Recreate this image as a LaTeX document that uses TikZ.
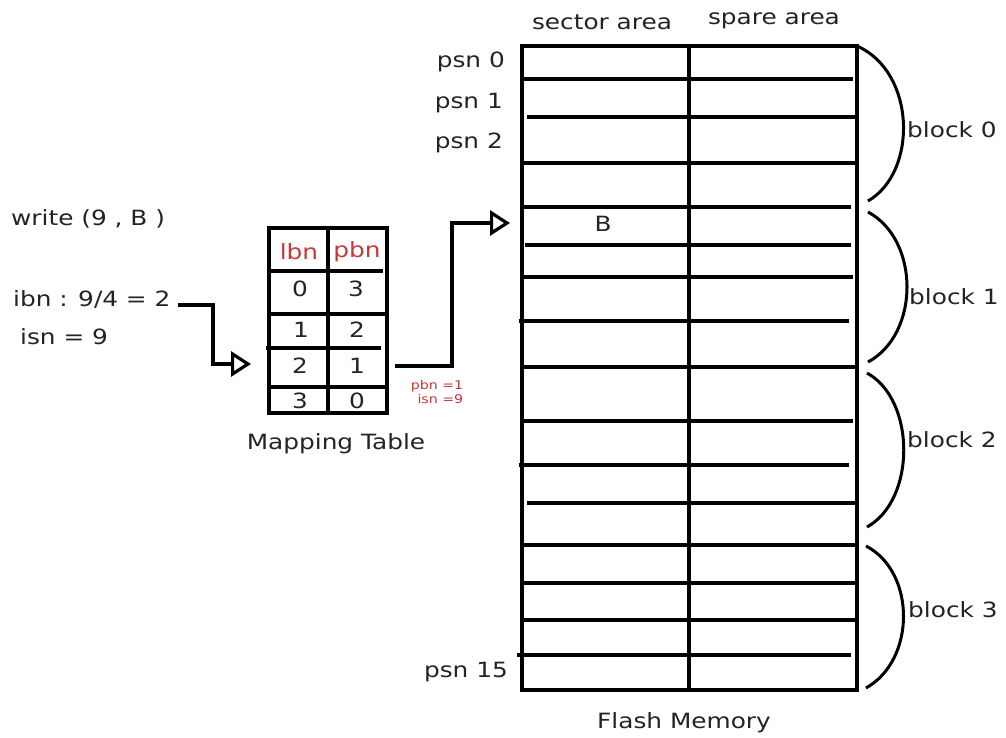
\documentclass[tikz,border=0pt]{standalone}
\usepackage{fontspec}
\setmainfont{DejaVu Sans}[FakeStretch=1.18]
\usetikzlibrary{arrows.meta}
\definecolor{redtxt}{RGB}{200,55,55}
\definecolor{ink}{RGB}{35,35,35}
\begin{document}
\begin{tikzpicture}[x=1pt,y=-1pt,
  lbl/.style={font=\fontsize{21}{23}\selectfont, text=ink, inner sep=0pt},
  small/.style={font=\fontsize{12}{14}\selectfont, text=redtxt, inner sep=0pt, align=right},
  hd/.style={font=\fontsize{21}{23}\selectfont, text=redtxt, inner sep=0pt},
  grid/.style={line width=3.4pt, draw=black},
  brace/.style={line width=3pt, draw=black},
  conn/.style={line width=3.4pt, -{Triangle[open,length=20pt,width=25pt,line width=3.2pt]}}]
\useasboundingbox[fill=white] (0,0) rectangle (1006,738);

% ---------- left texts ----------
\node[lbl, anchor=west] (write) at (11,219) {write (9 , B )};
\node[lbl, anchor=west] (ibn) at (13,299) {ibn : 9/4 = 2};
\node[lbl, anchor=west] (isn) at (20,337) {isn = 9};

% ---------- mapping table ----------
\node[grid, minimum width=118pt, minimum height=185pt, inner sep=0pt] (tbl) at (328,320.5) {};
\draw[grid] (328,228) -- (328,413);
\draw[grid] (269,271) -- (383,271);
\draw[grid] (269,314) -- (387,314);
\draw[grid] (266,348) -- (381,348);
\draw[grid] (269,387) -- (387,387);
\node[hd] (lbn) at (299,252) {lbn};
\node[hd] (pbn) at (357,252) {pbn};
\node[lbl] (r0a) at (300,289) {0};
\node[lbl] (r0b) at (356,289) {3};
\node[lbl] (r1a) at (301,330) {1};
\node[lbl] (r1b) at (357,330) {2};
\node[lbl] (r2a) at (300,366) {2};
\node[lbl] (r2b) at (357,366) {1};
\node[lbl] (r3a) at (300,401) {3};
\node[lbl] (r3b) at (357,401) {0};
\node[lbl] (mt) at (336,444) {Mapping Table};

% ---------- flash memory ----------
\node[grid, minimum width=335pt, minimum height=644pt, inner sep=0pt] (flash) at (689.5,368) {};
\draw[grid] (689,46) -- (689,690);
\foreach \y/\a/\b in {79/523/853, 117/527/857, 163/523/857, 207/523/851, 245/525/851,
                      277/523/853, 321/519/849, 367/523/857, 421/523/853, 465/519/849,
                      503/527/857, 545/523/857, 583/523/857, 620/523/857, 655/517/851}
  \draw[grid] (\a,\y) -- (\b,\y);

\node[lbl] (sector) at (602,22) {sector area};
\node[lbl] (spare) at (774,21) {spare area};
\node[lbl, anchor=east] (psn0) at (505,62) {psn 0};
\node[lbl, anchor=east] (psn1) at (503,103) {psn 1};
\node[lbl, anchor=east] (psn2) at (503,143) {psn 2};
\node[lbl, anchor=east] (psn15) at (508,672) {psn 15};
\node[lbl] (B) at (603,224) {B};
\node[lbl] (fm) at (684,723) {Flash Memory};

% ---------- block braces ----------
\draw[brace] (857,46) .. controls (916,72) and (918,172) .. (868,201);
\draw[brace] (868,212) .. controls (920,240) and (920,334) .. (868,362);
\draw[brace] (867,373) .. controls (916,400) and (916,500) .. (867,527);
\draw[brace] (866,546) .. controls (916,572) and (916,660) .. (866,688);
\node[lbl, anchor=west] (b0) at (907,130) {block 0};
\node[lbl, anchor=west] (b1) at (909,297) {block 1};
\node[lbl, anchor=west] (b2) at (907,440) {block 2};
\node[lbl, anchor=west] (b3) at (908,610) {block 3};

% ---------- connectors ----------
\coordinate (a1s) at (178,305);
\coordinate (a1m) at (213,364);
\coordinate (a1e) at (251,364);
\draw[conn] (a1s) -| (a1m) -- (a1e);

\coordinate (a2s) at (395,366);
\coordinate (a2m) at (452,223);
\coordinate (a2e) at (510,223);
\draw[conn] (a2s) -| (a2m) -- (a2e);

\node[small] (note) at (437,392) {pbn =1\\isn =9};
\end{tikzpicture}
\end{document}
